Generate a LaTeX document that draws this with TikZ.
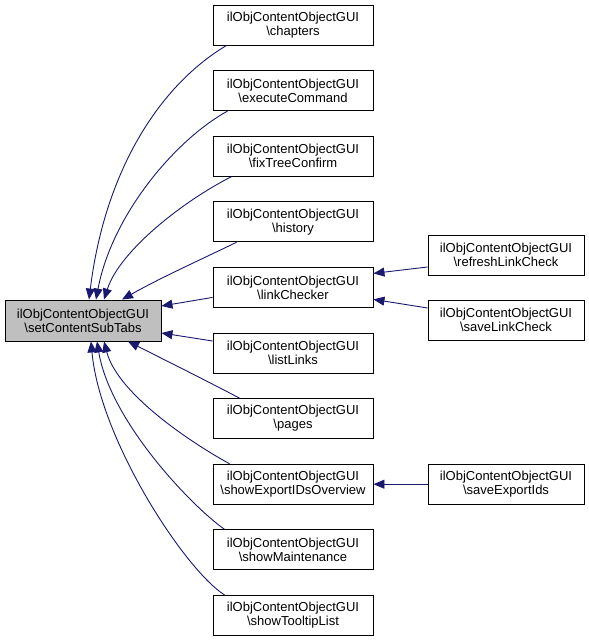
\documentclass[tikz,border=0pt]{standalone}
\usepackage{fontspec}
\setmainfont{Liberation Sans}
\usetikzlibrary{arrows.meta}
\definecolor{edgeblue}{RGB}{25,25,112}
\definecolor{mainfill}{RGB}{191,191,191}
\tikzset{
  box/.style={draw=black, line width=0.9pt, fill=white, align=center, inner sep=0pt,
    font=\fontsize{13}{14}\selectfont, minimum height=40pt},
  midbox/.style={box, minimum width=160pt},
  sidebox/.style={box, minimum width=156pt},
  edge/.style={draw=edgeblue, line width=0.9pt, -{Triangle[length=11pt,width=9pt]}},
}
\begin{document}
\begin{tikzpicture}[x=1pt,y=-1pt]
\useasboundingbox (0,0) rectangle (589,640);
\node[sidebox, fill=mainfill, minimum height=41pt] (main) at (83,320.5) {ilObjContentObjectGUI\\\textbackslash setContentSubTabs};
\node[midbox] (chap) at (293,25) {ilObjContentObjectGUI\\\textbackslash chapters};
\node[midbox] (exec) at (293,90.6) {ilObjContentObjectGUI\\\textbackslash executeCommand};
\node[midbox] (fix) at (293,156.2) {ilObjContentObjectGUI\\\textbackslash fixTreeConfirm};
\node[midbox] (hist) at (293,221.8) {ilObjContentObjectGUI\\\textbackslash history};
\node[midbox] (link) at (293,287.4) {ilObjContentObjectGUI\\\textbackslash linkChecker};
\node[midbox] (list) at (293,353) {ilObjContentObjectGUI\\\textbackslash listLinks};
\node[midbox] (pages) at (293,418.6) {ilObjContentObjectGUI\\\textbackslash pages};
\node[midbox] (sexp) at (293,484.2) {ilObjContentObjectGUI\\\textbackslash showExportIDsOverview};
\node[midbox] (smaint) at (293,549.8) {ilObjContentObjectGUI\\\textbackslash showMaintenance};
\node[midbox] (stool) at (293,615.4) {ilObjContentObjectGUI\\\textbackslash showTooltipList};
\node[sidebox] (refresh) at (506,255) {ilObjContentObjectGUI\\\textbackslash refreshLinkCheck};
\node[sidebox] (savelink) at (506,320) {ilObjContentObjectGUI\\\textbackslash saveLinkCheck};
\node[sidebox] (saveexp) at (506,484.2) {ilObjContentObjectGUI\\\textbackslash saveExportIds};
% edges into main (top side)
\draw[edge] ([xshift=14pt]chap.south west) .. controls (160,85) and (105,170) .. ([xshift=6pt]main.north);
\draw[edge] ([xshift=15pt]exec.south west) .. controls (175,140) and (112,215) .. ([xshift=13pt]main.north);
\draw[edge] ([xshift=19pt]fix.south west) .. controls (185,200) and (120,250) .. ([xshift=21pt]main.north);
\draw[edge] ([xshift=24pt]hist.south west) .. controls (200,260) and (160,278) .. ([xshift=39pt]main.north);
\draw[edge] ([yshift=-10pt]link.west) -- ([yshift=14.5pt]main.east);
\draw[edge] ([yshift=12pt]list.west) -- ([yshift=-12.5pt]main.east);
\draw[edge] ([xshift=27pt]pages.north west) .. controls (205,380) and (165,360) .. ([xshift=45pt]main.south);
\draw[edge] ([xshift=17pt]sexp.north west) .. controls (195,445) and (118,395) .. ([xshift=21pt]main.south);
\draw[edge] ([xshift=12pt]smaint.north west) .. controls (190,505) and (110,420) .. ([xshift=14pt]main.south);
\draw[edge] ([xshift=12pt]stool.north west) .. controls (185,570) and (100,440) .. ([xshift=8pt]main.south);
% edges into linkChecker / showExportIDsOverview
\draw[edge] ([yshift=-12pt]refresh.west) -- ([yshift=14pt]link.east);
\draw[edge] ([yshift=12pt]savelink.west) -- ([yshift=-12pt]link.east);
\draw[edge] (saveexp.west) -- (sexp.east);
\end{tikzpicture}
\end{document}
